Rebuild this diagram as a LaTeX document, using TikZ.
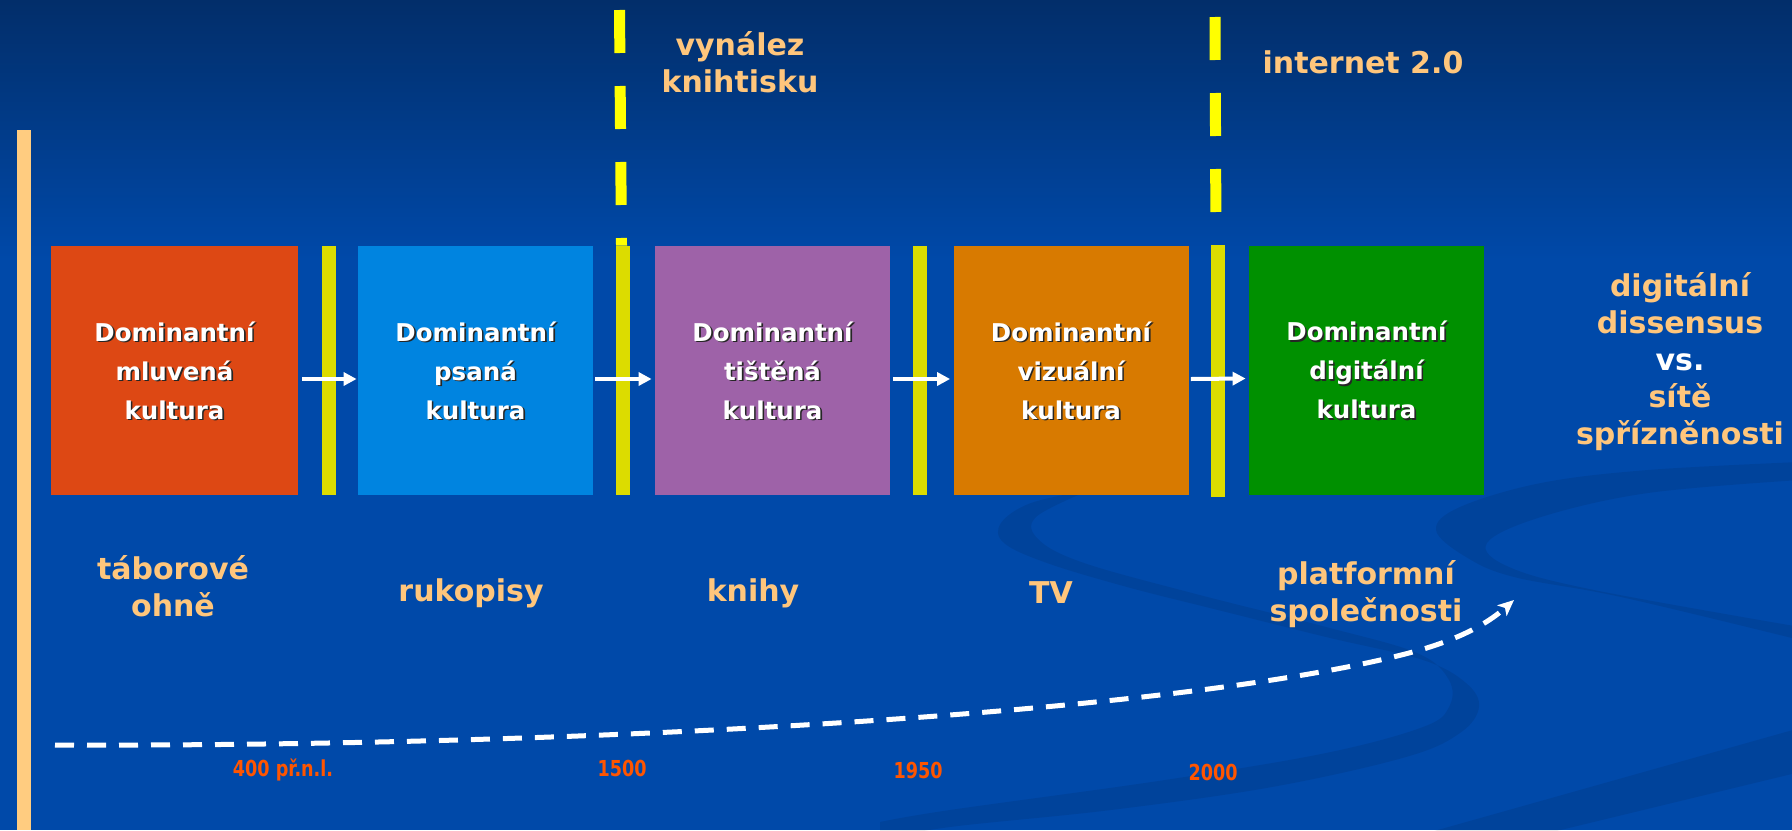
\documentclass[tikz,border=0pt]{standalone}
\usepackage{graphicx}
\usepackage{fontspec}
\setmainfont{DejaVu Sans}
\usetikzlibrary{arrows.meta}

\definecolor{bgmain}{HTML}{0049A9}
\definecolor{bgtop}{HTML}{022E6A}
\definecolor{labelcol}{HTML}{FFC67C}
\definecolor{edgebar}{HTML}{FFCC80}
\definecolor{sepcol}{HTML}{DCDC00}
\definecolor{dashcol}{HTML}{FFFF00}
\definecolor{yearcol}{HTML}{FF5500}
\definecolor{cRed}{HTML}{DD4814}
\definecolor{cBlue}{HTML}{0084E0}
\definecolor{cPurple}{HTML}{9E62A8}
\definecolor{cOrange}{HTML}{D87A00}
\definecolor{cGreen}{HTML}{009000}

\newcommand\yeartext[1]{\scalebox{0.8}[1]{#1}}

\tikzset{
  culture/.style={draw=none, inner sep=0pt, minimum width=117.5pt, minimum height=124.5pt},
  sepbar/.style={fill=sepcol, draw=none, inner sep=0pt, minimum width=7pt, minimum height=124.5pt},
  boxtxt/.style={text=white, align=center, font=\fontsize{12.25}{19.5}\selectfont\bfseries, inner sep=0pt},
  boxshadow/.style={boxtxt, text=black!85},
  lbl/.style={text=labelcol, align=center, font=\fontsize{15}{18.5}\selectfont\bfseries, inner sep=0pt},
  year/.style={text=yearcol, font=\fontsize{11}{12}\selectfont\bfseries, inner sep=0pt},
  flow/.style={draw=white, line width=2pt, -{Triangle[length=6.5pt,width=6.5pt]}},
  ydash/.style={draw=dashcol, line width=5.5pt, dash pattern=on 21.5pt off 16.5pt},
  timeline/.style={draw=white, line width=2.5pt, dash pattern=on 9.5pt off 6.5pt,
    -{Stealth[length=8pt,width=7pt,inset=2pt]}},
  swirl/.style={fill=black, fill opacity=0.08, draw=none}
}

\begin{document}
\begin{tikzpicture}[x=0.5pt,y=-0.5pt]
\useasboundingbox (0,0) rectangle (1792,830);

% background with darker band at the top
\fill[bgmain] (0,0) rectangle (1792,830);
\shade[top color=bgtop, bottom color=bgmain] (0,0) rectangle (1792,260);

% decorative swirls
\begin{scope}
\clip (0,0) rectangle (1792,830);
\fill[swirl] plot[smooth, tension=0.6] coordinates {(1090,490) (1031,503) (1001,523) (1004,543) (1047,563) (1127,587) (1218,610) (1326,637) (1423,660) (1466,683) (1479,707) (1460,733) (1406,757) (1272,787) (1111,810) (950,827) (880,840)}
  -- plot[smooth, tension=0.6] coordinates {(880,822) (950,810) (1165,780) (1326,753) (1423,727) (1449,707) (1449,680) (1417,653) (1326,627) (1192,593) (1084,563) (1039,540) (1036,517) (1090,490)} -- cycle;
\fill[swirl] plot[smooth, tension=0.6] coordinates {(1800,462) (1648,470) (1541,483) (1460,507) (1436,530) (1466,557) (1514,577) (1621,597) (1800,640)}
  -- plot[smooth, tension=0.6] coordinates {(1800,627) (1594,590) (1509,567) (1487,543) (1541,517) (1648,493) (1800,480)} -- cycle;
\fill[swirl] (1420,835) -- (1800,728) -- (1800,772) -- (1540,835) -- cycle;
\end{scope}

% left edge bar
\node[fill=edgebar, draw=none, inner sep=0pt, minimum width=7pt, minimum height=350pt] (edge) at (24,480) {};

% culture boxes
\node[culture, fill=cRed, minimum width=123.5pt] (b1) at (174.5,370.5) {};
\node[culture, fill=cBlue]   (b2) at (475.5,370.5) {};
\node[culture, fill=cPurple] (b3) at (772.5,370.5) {};
\node[culture, fill=cOrange] (b4) at (1071,370.5) {};
\node[culture, fill=cGreen]  (b5) at (1366.5,370) {};

% separators between the boxes
\node[sepbar] (s1) at (329,370.5) {};
\node[sepbar] (s2) at (623,370.5) {};
\node[sepbar] (s3) at (920,370.5) {};
\node[sepbar, minimum height=126pt] (s4) at (1218,371) {};

% dashed markers above the separators
\coordinate (d2) at (619.5,10);
\coordinate (d4) at (1215,17);
\draw[ydash] (d2) -- ([xshift=-0.75pt]s2.north);
\draw[ydash] (d4) -- ([xshift=-1pt]s4.north);

% arrows between the boxes
\draw[flow] ([xshift=2pt,yshift=-4.25pt]b1.east) -- ([xshift=-0.5pt,yshift=-4.25pt]b2.west);
\draw[flow] ([xshift=1pt,yshift=-4.25pt]b2.east) -- ([xshift=-1.5pt,yshift=-4.25pt]b3.west);
\draw[flow] ([xshift=1.5pt,yshift=-4.25pt]b3.east) -- ([xshift=-1.5pt,yshift=-4.25pt]b4.west);
\draw[flow] ([xshift=1pt,yshift=-4.25pt]b4.east) -- ([xshift=-1.5pt,yshift=-4.25pt]b5.west);

% box captions (with a dark drop shadow)
\node[boxshadow] (h1) at ([shift={(0.8pt,-0.8pt)}]b1.center) {Dominantní\\mluvená\\kultura};
\node[boxtxt]    (t1) at (b1.center) {Dominantní\\mluvená\\kultura};
\node[boxshadow] (h2) at ([shift={(0.8pt,-0.8pt)}]b2.center) {Dominantní\\psaná\\kultura};
\node[boxtxt]    (t2) at (b2.center) {Dominantní\\psaná\\kultura};
\node[boxshadow] (h3) at ([shift={(0.8pt,-0.8pt)}]b3.center) {Dominantní\\tištěná\\kultura};
\node[boxtxt]    (t3) at (b3.center) {Dominantní\\tištěná\\kultura};
\node[boxshadow] (h4) at ([shift={(0.8pt,-0.8pt)}]b4.center) {Dominantní\\vizuální\\kultura};
\node[boxtxt]    (t4) at (b4.center) {Dominantní\\vizuální\\kultura};
\node[boxshadow] (h5) at ([shift={(0.8pt,-0.8pt)}]b5.center) {Dominantní\\digitální\\kultura};
\node[boxtxt]    (t5) at (b5.center) {Dominantní\\digitální\\kultura};

% headings at the top
\node[lbl] (print) at (740,62) {vynález\\knihtisku};
\node[lbl] (web) at (1363,62) {internet 2.0};

% right-hand statement
\node[lbl] (dissent) at (1680,362) {digitální\\dissensus\\\textcolor{white}{vs.}\\sítě\\spřízněnosti};

% media below the boxes
\node[lbl] (m1) at (173,586) {táborové\\ ohně};
\node[lbl] (m2) at (471,593) {rukopisy};
\node[lbl] (m3) at (753,593) {knihy};
\node[lbl] (m4) at (1051,593) {TV};
\node[lbl] (m5) at (1366,594) {platformní\\společnosti};

% timeline
\coordinate (c0) at (55,745);
\coordinate (c1) at (1514,600);
\draw[timeline] (c0) .. controls (600,747) and (1200,712) .. (1420,650) .. controls (1475,634) and (1497,615) .. (c1);

% years
\node[year] (y1) at (283,770) {\yeartext{400 př.n.l.}};
\node[year] (y2) at (622,768) {\yeartext{1500}};
\node[year] (y3) at (918,770) {\yeartext{1950}};
\node[year] (y4) at (1213,772) {\yeartext{2000}};
\end{tikzpicture}
\end{document}
